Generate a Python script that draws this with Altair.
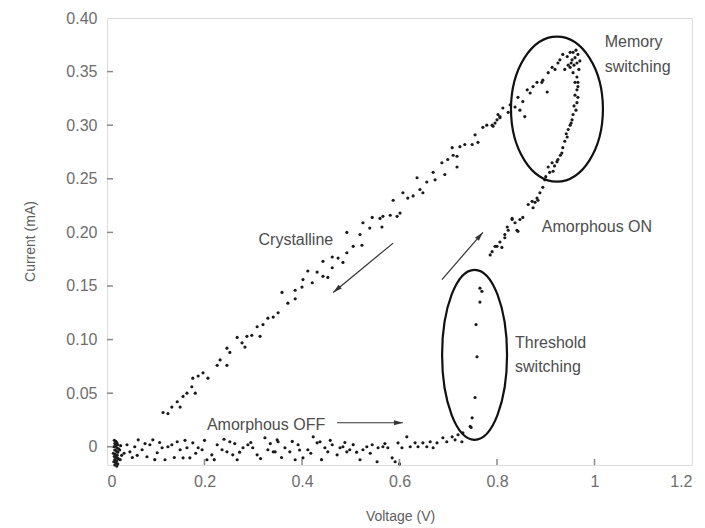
import altair as alt
import pandas as pd

# ---------------- data ----------------
off_v = [0.015, 0.018, 0.020, 0.016, 0.022, 0.018, 0.014, 0.020, 0.024, 0.016, 0.019, 0.022, 0.013,
         0.017, 0.021, 0.015, 0.019, 0.023, 0.016, 0.020, 0.014, 0.018, 0.022, 0.016, 0.020, 0.026,
         0.028, 0.030, 0.027,
         0.041, 0.047, 0.057, 0.064, 0.072, 0.082, 0.088, 0.094, 0.103, 0.113, 0.119, 0.125, 0.133,
         0.144, 0.150, 0.156, 0.164, 0.170, 0.176, 0.187, 0.195, 0.205, 0.215, 0.226, 0.236, 0.246,
         0.252, 0.258, 0.267, 0.279, 0.289, 0.299, 0.308, 0.324, 0.330, 0.341, 0.349,
         0.345, 0.351, 0.365, 0.375, 0.386, 0.392, 0.402, 0.412, 0.423, 0.431, 0.437, 0.447, 0.453,
         0.462, 0.472, 0.478, 0.484, 0.492, 0.498, 0.519, 0.525, 0.533, 0.544, 0.554, 0.556, 0.566,
         0.576, 0.585, 0.591, 0.597, 0.605, 0.615, 0.622, 0.632, 0.638, 0.648, 0.656, 0.663, 0.669,
         0.677, 0.689, 0.697, 0.708, 0.714, 0.720, 0.728, 0.730,
         0.035, 0.052, 0.062, 0.078, 0.098, 0.108, 0.138, 0.160, 0.182, 0.200, 0.220, 0.240, 0.262,
         0.272, 0.295, 0.315, 0.335, 0.358, 0.380, 0.395, 0.418, 0.440, 0.458, 0.488, 0.505, 0.512,
         0.540, 0.570, 0.600]
off_i = [0.006, 0.005, 0.004, 0.003, 0.002, 0.001, 0.000, -0.001, -0.002, -0.003, -0.004, -0.005, -0.006,
         -0.007, -0.008, -0.009, -0.010, -0.011, -0.012, -0.013, -0.014, -0.015, -0.016, -0.017, -0.018, -0.003,
         0.001, -0.008, -0.012,
         0.0019, -0.0047, 0.0000, 0.0065, -0.0028, -0.0093, 0.0019, 0.0065, -0.0056, -0.0009, -0.0121, 0.0000, 0.0019,
         0.0047, -0.0028, -0.0103, -0.0009, -0.0103, 0.0037, -0.0009, -0.0028, -0.0121, -0.0075, 0.0019, -0.0028, -0.0047,
         0.0047, -0.0075, -0.0121, -0.0009, 0.0019, -0.0009, -0.0075, 0.0084, -0.0028, -0.0047, 0.0065,
         -0.0047, 0.0047, -0.0009, -0.0047, -0.0121, 0.0019, -0.0103, -0.0028, 0.0093, 0.0037, 0.0047, -0.0009, -0.0047,
         0.0019, -0.0075, -0.0009, 0.0000, -0.0047, -0.0028, -0.0121, -0.0028, 0.0000, 0.0019, -0.0140, -0.0009, 0.0000,
         -0.0009, -0.0103, -0.0140, 0.0037, -0.0009, 0.0093, 0.0000, 0.0037, 0.0000, 0.0037, 0.0000, 0.0047, -0.0009,
         0.0037, 0.0084, 0.0047, 0.0093, 0.0065, 0.0112, 0.0047, 0.0131,
         -0.006, -0.010, -0.008, 0.003, -0.012, 0.004, -0.010, 0.006, -0.006, 0.006, -0.012, 0.007, 0.003,
         -0.005, 0.004, -0.011, 0.003, -0.010, 0.005, -0.003, -0.006, -0.012, 0.006, 0.004, 0.002, -0.005,
         -0.006, 0.003, -0.016]

thr_v = [0.765, 0.769, 0.765, 0.757, 0.759, 0.755, 0.749, 0.747, 0.745]
thr_i = [0.148, 0.145, 0.135, 0.114, 0.084, 0.046, 0.027, 0.018, 0.019]

on_v = [0.786, 0.790, 0.796, 0.800, 0.806, 0.810, 0.816, 0.816, 0.821, 0.823, 0.831, 0.831, 0.837, 0.841,
        0.843, 0.847, 0.853, 0.864, 0.872, 0.874, 0.878, 0.884, 0.882, 0.888, 0.894, 0.898, 0.900, 0.905,
        0.908, 0.913, 0.915, 0.918, 0.923, 0.925, 0.930, 0.933, 0.935, 0.939, 0.942, 0.944, 0.946, 0.950,
        0.952, 0.954, 0.956, 0.958, 0.962, 0.960, 0.964, 0.966, 0.964, 0.966]
on_i = [0.179, 0.182, 0.187, 0.187, 0.191, 0.186, 0.198, 0.195, 0.205, 0.202, 0.212, 0.213, 0.209, 0.202,
        0.201, 0.212, 0.214, 0.226, 0.229, 0.223, 0.228, 0.230, 0.232, 0.237, 0.242, 0.249, 0.252, 0.261,
        0.256, 0.265, 0.257, 0.262, 0.266, 0.268, 0.272, 0.274, 0.279, 0.285, 0.292, 0.289, 0.296, 0.300,
        0.302, 0.305, 0.310, 0.318, 0.314, 0.328, 0.321, 0.326, 0.333, 0.340]

cry_v = [0.115, 0.125, 0.133, 0.144, 0.150, 0.156, 0.164, 0.174, 0.181, 0.176, 0.187, 0.197, 0.207,
         0.226, 0.232, 0.246, 0.246, 0.252, 0.267, 0.277, 0.283, 0.287, 0.297, 0.308, 0.314, 0.320,
         0.330, 0.341, 0.351, 0.359, 0.371, 0.386, 0.386, 0.400, 0.402, 0.421, 0.412, 0.431, 0.443,
         0.443, 0.453,
         0.462, 0.462, 0.474, 0.484, 0.492, 0.505, 0.492, 0.523, 0.519, 0.525, 0.539, 0.544, 0.564,
         0.560, 0.566, 0.581, 0.595, 0.601, 0.587, 0.607, 0.617, 0.628, 0.642, 0.636, 0.648, 0.656,
         0.669, 0.673, 0.687, 0.693, 0.699, 0.708, 0.710, 0.718, 0.718, 0.724, 0.734, 0.749, 0.755,
         0.761, 0.771, 0.779, 0.790, 0.796, 0.802, 0.806]
cry_i = [0.032, 0.031, 0.037, 0.042, 0.037, 0.047, 0.050, 0.056, 0.050, 0.064, 0.066, 0.069, 0.064,
         0.076, 0.081, 0.076, 0.092, 0.088, 0.102, 0.097, 0.093, 0.103, 0.104, 0.112, 0.103, 0.114,
         0.120, 0.121, 0.125, 0.144, 0.134, 0.138, 0.146, 0.149, 0.156, 0.153, 0.164, 0.163, 0.173,
         0.159, 0.158,
         0.167, 0.177, 0.176, 0.172, 0.181, 0.187, 0.200, 0.188, 0.198, 0.209, 0.204, 0.214, 0.205,
         0.213, 0.215, 0.216, 0.215, 0.218, 0.230, 0.237, 0.232, 0.234, 0.240, 0.251, 0.237, 0.247,
         0.256, 0.249, 0.265, 0.254, 0.268, 0.279, 0.272, 0.271, 0.261, 0.280, 0.282, 0.282, 0.291,
         0.284, 0.298, 0.300, 0.300, 0.302, 0.310, 0.307]

mem_v = [0.792, 0.800, 0.806, 0.812, 0.823, 0.827, 0.837, 0.843, 0.847, 0.853, 0.857, 0.862, 0.868,
         0.874, 0.882, 0.892, 0.894, 0.903, 0.905, 0.913, 0.919, 0.925, 0.929, 0.935, 0.944, 0.950,
         0.956, 0.954, 0.960, 0.964, 0.966, 0.950, 0.939, 0.956, 0.964, 0.962, 0.958, 0.968, 0.970,
         0.952, 0.946, 0.960, 0.966]
mem_i = [0.299, 0.305, 0.308, 0.316, 0.312, 0.319, 0.317, 0.326, 0.314, 0.322, 0.308, 0.333, 0.330,
         0.336, 0.340, 0.340, 0.342, 0.331, 0.349, 0.354, 0.352, 0.358, 0.361, 0.366, 0.364, 0.368,
         0.368, 0.361, 0.363, 0.358, 0.366, 0.354, 0.352, 0.349, 0.345, 0.370, 0.356, 0.352, 0.360,
         0.358, 0.356, 0.340, 0.336]

x_ticks = [0.2, 0.4, 0.6, 0.8, 1.0]
y_ticks = [0.0, 0.05, 0.10, 0.15, 0.20, 0.25, 0.30, 0.35]

# annotations (data coordinates)
ann_text = ["Memory", "switching", "Crystalline", "Amorphous ON", "Threshold", "switching", "Amorphous OFF"]
ann_v = [1.021, 1.021, 0.464, 0.892, 0.837, 0.837, 0.205]
ann_i = [0.378, 0.354, 0.193, 0.205, 0.097, 0.0746, 0.0205]
ann_align = ["left", "left", "right", "left", "left", "left", "left"]

arrow_v0 = [0.587, 0.687, 0.472]
arrow_i0 = [0.190, 0.156, 0.0224]
arrow_v1 = [0.464, 0.771, 0.607]
arrow_i1 = [0.144, 0.200, 0.0224]
arrow_ang = [140.2, 311.1, 0.0]

ell_mem = (0.923, 0.315)
ell_thr = (0.754, 0.0858)

# ---------------- build tables ----------------
pts = pd.DataFrame({
    "v": off_v + thr_v + on_v + cry_v + mem_v,
    "i": off_i + thr_i + on_i + cry_i + mem_i,
})
ann = pd.DataFrame({"t": ann_text, "v": ann_v, "i": ann_i, "al": ann_align})
arr = pd.DataFrame({"v0": arrow_v0, "i0": arrow_i0, "v1": arrow_v1, "i1": arrow_i1, "ang": arrow_ang})
xt = pd.DataFrame({"v": x_ticks})
yt = pd.DataFrame({"i": y_ticks})

FONT = "Liberation Sans, Arial, sans-serif"
W, H = 585, 447

xs = alt.Scale(domain=[0, 1.2], nice=False, zero=False)
ys = alt.Scale(domain=[-0.017, 0.40], nice=False, zero=False)

xax = alt.Axis(values=[0, 0.2, 0.4, 0.6, 0.8, 1.0, 1.2], format=".1~f", ticks=False, domain=False,
               grid=False, labelPadding=8, labelFontSize=16, labelColor="#6e6e6e", labelFont=FONT,
               title="Voltage (V)", titleFont=FONT, titleFontSize=14, titleFontWeight="normal",
               titleColor="#5e5e5e", titleX=293, titleY=51, titleBaseline="middle", titleAlign="center")
yax = alt.Axis(values=[0, 0.05, 0.10, 0.15, 0.20, 0.25, 0.30, 0.35, 0.40],
               labelExpr="datum.value == 0 ? '0' : format(datum.value, '.2f')",
               ticks=False, domain=False, grid=False, labelPadding=10, labelFontSize=16,
               labelColor="#6e6e6e", labelFont=FONT,
               title="Current (mA)", titleFont=FONT, titleFontSize=14, titleFontWeight="normal",
               titleColor="#5e5e5e", titleX=-77, titleY=223, titleAngle=-90,
               titleBaseline="middle", titleAlign="center")

dots = alt.Chart(pts).mark_circle(size=10, color="#1a1a1a", opacity=1).encode(
    x=alt.X("v:Q", scale=xs, axis=xax),
    y=alt.Y("i:Q", scale=ys, axis=yax),
)

ELL_MEM = "M -0.634 0 A 0.634 1 0 1 0 0.634 0 A 0.634 1 0 1 0 -0.634 0 Z"
ELL_THR = "M -0.382 0 A 0.382 1 0 1 0 0.382 0 A 0.382 1 0 1 0 -0.382 0 Z"

e1 = alt.Chart(pd.DataFrame({"v": [ell_mem[0]], "i": [ell_mem[1]]})).mark_point(
    shape=ELL_MEM, size=145 ** 2, filled=False, stroke="#111111", strokeWidth=2.2, opacity=1
).encode(x=alt.X("v:Q", scale=xs), y=alt.Y("i:Q", scale=ys))
e2 = alt.Chart(pd.DataFrame({"v": [ell_thr[0]], "i": [ell_thr[1]]})).mark_point(
    shape=ELL_THR, size=170 ** 2, filled=False, stroke="#111111", strokeWidth=2.2, opacity=1
).encode(x=alt.X("v:Q", scale=xs), y=alt.Y("i:Q", scale=ys))

lines = alt.Chart(arr).mark_rule(color="#333333", strokeWidth=1.2).encode(
    x=alt.X("v0:Q", scale=xs), y=alt.Y("i0:Q", scale=ys), x2="v1:Q", y2="i1:Q")
heads = alt.Chart(arr).mark_point(
    shape="M 0 0 L -2 -0.55 L -2 0.55 Z", size=81, filled=True, color="#333333", opacity=1
).encode(x=alt.X("v1:Q", scale=xs), y=alt.Y("i1:Q", scale=ys), angle=alt.Angle("ang:Q", scale=None))

txt_l = alt.Chart(ann).transform_filter("datum.al == 'left'").mark_text(
    align="left", baseline="middle", font=FONT, fontSize=16, color="#4d4d4d"
).encode(x=alt.X("v:Q", scale=xs), y=alt.Y("i:Q", scale=ys), text="t:N")
txt_r = alt.Chart(ann).transform_filter("datum.al == 'right'").mark_text(
    align="right", baseline="middle", font=FONT, fontSize=16, color="#4d4d4d"
).encode(x=alt.X("v:Q", scale=xs), y=alt.Y("i:Q", scale=ys), text="t:N")

xtk = alt.Chart(xt).mark_rule(color="#8a8a8a", strokeWidth=1.5).encode(
    x=alt.X("v:Q", scale=xs), y=alt.value(H), y2=alt.value(H - 6))
ytk = alt.Chart(yt).mark_rule(color="#8a8a8a", strokeWidth=1.5).encode(
    y=alt.Y("i:Q", scale=ys), x=alt.value(0), x2=alt.value(6))

chart = alt.layer(dots, xtk, ytk, e1, e2, lines, heads, txt_l, txt_r).properties(
    width=W, height=H,
    autosize=alt.AutoSizeParams(type="none"),
    padding={"left": 99, "top": 10, "right": 5, "bottom": 62},
).configure_view(stroke="#8a8a8a", strokeWidth=1.6).configure(background="white")

chart.save("out.html", embed_options={"renderer": "svg", "actions": False})
